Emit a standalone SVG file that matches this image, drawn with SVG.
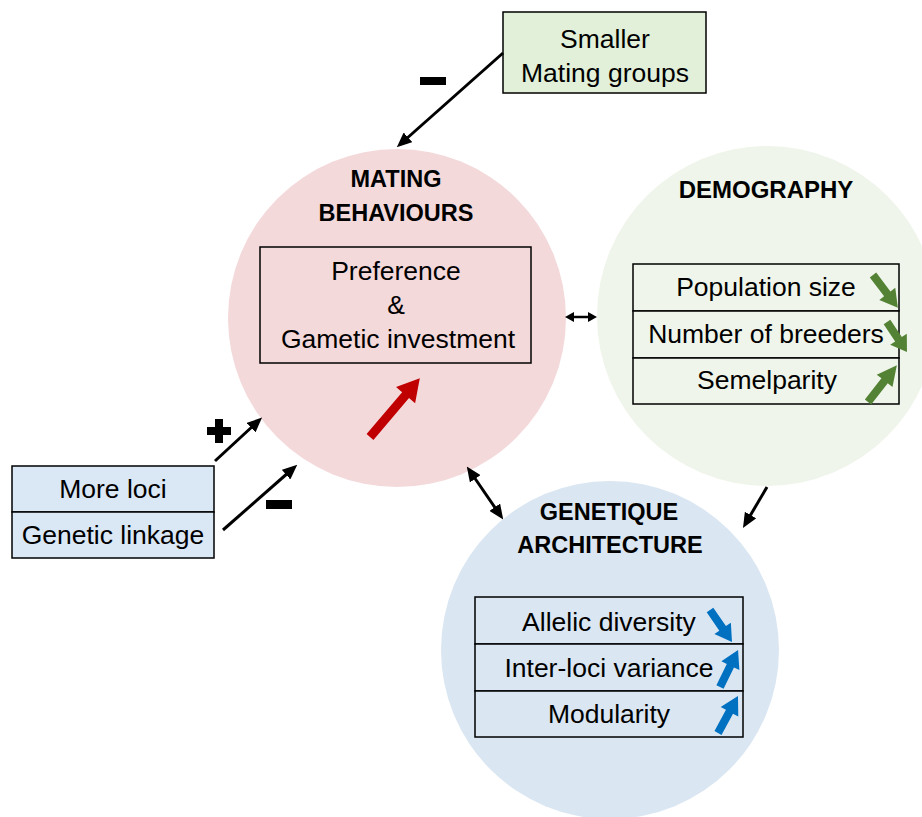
<svg xmlns="http://www.w3.org/2000/svg" xmlns:xlink="http://www.w3.org/1999/xlink" width="922" height="817" viewBox="0 0 922 817">
<defs>
<style>
text{font-family:"Liberation Sans",Arial,sans-serif;fill:#000;text-anchor:middle;}
.t{font-size:26.5px;}
.h{font-size:23.5px;font-weight:bold;}
.box{stroke:#000;stroke-width:1.5;}
.con{stroke:#000;stroke-width:3;fill:none;}
.sign{fill:#000;}
.g{fill:#548235;}
.b{fill:#0070C0;}
</style>
<marker id="ah" viewBox="0 0 15 13" markerWidth="15" markerHeight="13" refX="4" refY="6.5" orient="auto-start-reverse" markerUnits="userSpaceOnUse">
<path d="M0,0 L15,6.5 L0,13 Z" fill="#000"/>
</marker>
<marker id="ahs" viewBox="0 0 9 10" markerWidth="9" markerHeight="10" refX="3" refY="5" orient="auto-start-reverse" markerUnits="userSpaceOnUse">
<path d="M0,0 L9,5 L0,10 Z" fill="#000"/>
</marker>
<path id="ba" d="M0,-4 L23,-4 L23,-10 L40,0 L23,10 L23,4 L0,4 Z"/>
</defs>
<rect width="922" height="817" fill="#fff"/>

<g id="mating">
<circle cx="397" cy="318" r="169" fill="#F4D9DB"/>
<text class="h" x="396" y="187">MATING</text>
<text class="h" x="396" y="221">BEHAVIOURS</text>
<rect class="box" x="260" y="247" width="271" height="116" fill="#F4D9DB"/>
<text class="t" x="396" y="280">Preference</text>
<text class="t" x="396" y="314">&amp;</text>
<text class="t" x="398" y="348">Gametic investment</text>
<path d="M0,-4.5 L55,-4.5 L55,-12.5 L77,0 L55,12.5 L55,4.5 L0,4.5 Z" fill="#C00000" transform="translate(370,437) rotate(-49.7)"/>
</g>

<g id="demography">
<circle cx="767" cy="316" r="170" fill="#EFF5EA"/>
<text class="h" x="766" y="198" style="font-size:24px">DEMOGRAPHY</text>
<rect class="box" x="633" y="264" width="266" height="47" fill="#EFF5EA"/>
<rect class="box" x="633" y="311" width="266" height="47" fill="#EFF5EA"/>
<rect class="box" x="633" y="358" width="266" height="46" fill="#EFF5EA"/>
<text class="t" x="766" y="296">Population size</text>
<text class="t" x="766" y="343">Number of breeders</text>
<text class="t" x="767" y="389">Semelparity</text>
<use xlink:href="#ba" class="g" transform="translate(873,275) rotate(52.9) scale(1.03,1)"/>
<use xlink:href="#ba" class="g" transform="translate(887,322) rotate(56.3) scale(0.9,1)"/>
<use xlink:href="#ba" class="g" transform="translate(868,402) rotate(-51.9) scale(1.17,1)"/>
</g>

<g id="genetique">
<circle cx="610" cy="650" r="169" fill="#DAE6F2"/>
<text class="h" x="609" y="520">GENETIQUE</text>
<text class="h" x="610" y="553">ARCHITECTURE</text>
<rect class="box" x="475" y="597" width="268" height="47" fill="#DAE6F2"/>
<rect class="box" x="475" y="644" width="268" height="47" fill="#DAE6F2"/>
<rect class="box" x="475" y="691" width="268" height="46" fill="#DAE6F2"/>
<text class="t" x="609" y="631">Allelic diversity</text>
<text class="t" x="609" y="677">Inter-loci variance</text>
<text class="t" x="609" y="723">Modularity</text>
<use xlink:href="#ba" class="b" transform="translate(710,610) rotate(55.5) scale(0.97,1)"/>
<use xlink:href="#ba" class="b" transform="translate(720,687) rotate(-64) scale(1.03,1)"/>
<use xlink:href="#ba" class="b" transform="translate(718,733) rotate(-61.6) scale(1.05,1)"/>
</g>

<g id="smaller-groups">
<rect class="box" x="503" y="12" width="203" height="81" fill="#E2F0D9"/>
<text class="t" x="605" y="48">Smaller</text>
<text class="t" x="605" y="82">Mating groups</text>
</g>

<g id="loci">
<rect class="box" x="12" y="466" width="202" height="46" fill="#DAE8F5"/>
<rect class="box" x="12" y="512" width="202" height="46" fill="#DAE8F5"/>
<text class="t" x="113" y="498">More loci</text>
<text class="t" x="113" y="544">Genetic linkage</text>
</g>

<g id="connectors">
<line class="con" x1="503" y1="53" x2="405" y2="140" marker-end="url(#ah)"/>
<line class="con" x1="215" y1="461" x2="254" y2="425" marker-end="url(#ah)"/>
<line class="con" x1="223" y1="530" x2="289" y2="472" marker-end="url(#ah)"/>
<line class="con" x1="767" y1="487" x2="748.5" y2="518.5" marker-end="url(#ah)"/>
<line class="con" x1="473" y1="475.5" x2="497" y2="510.5" marker-start="url(#ah)" marker-end="url(#ah)"/>
<line class="con" x1="571" y1="317" x2="591" y2="317" style="stroke-width:2.5" marker-start="url(#ahs)" marker-end="url(#ahs)"/>
</g>

<g id="signs">
<rect class="sign" x="420" y="77" width="26" height="8"/>
<rect class="sign" x="266" y="500" width="26" height="9"/>
<path class="sign" d="M215,419 h8 v8 h8 v8 h-8 v8 h-8 v-8 h-8 v-8 h8 Z"/>
</g>
</svg>
